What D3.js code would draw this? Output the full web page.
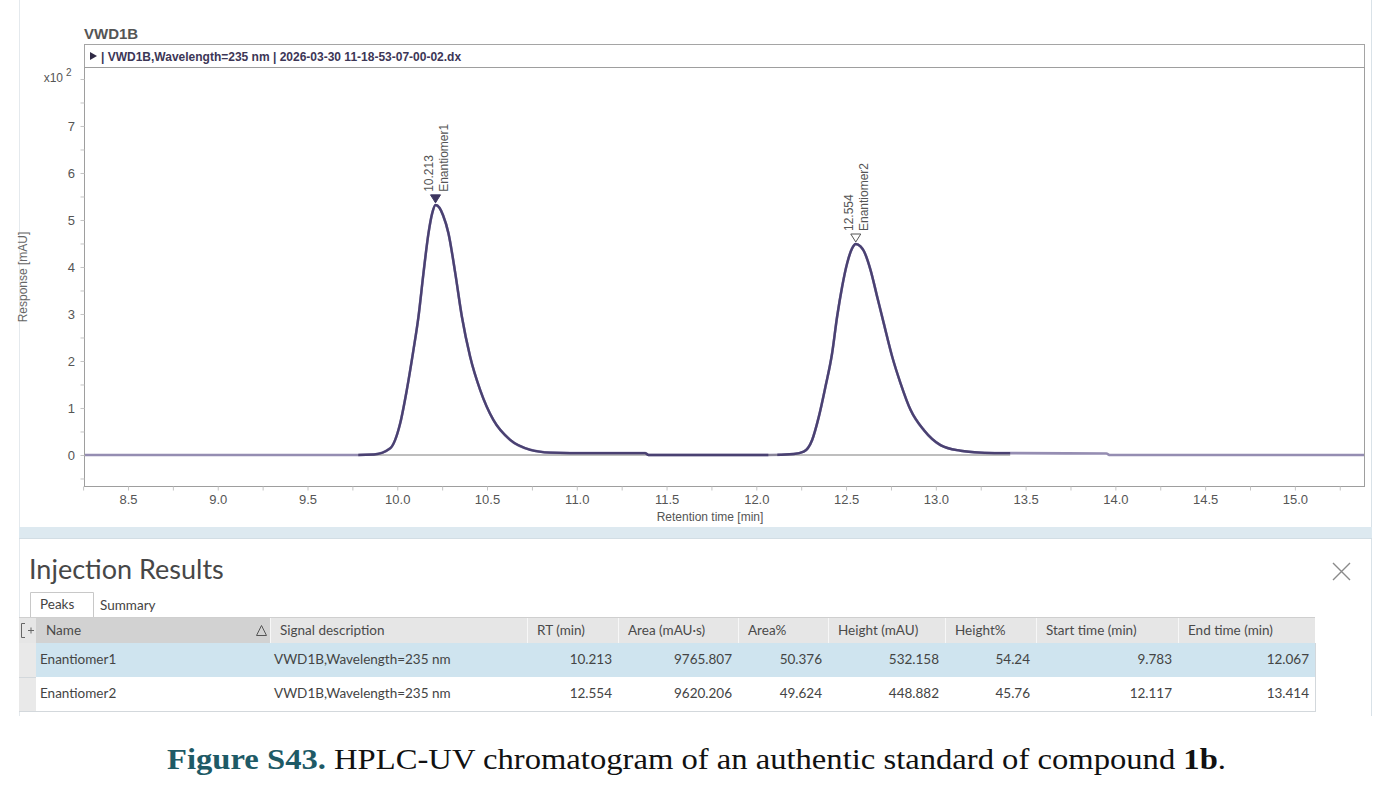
<!DOCTYPE html>
<html>
<head>
<meta charset="utf-8">
<script src="https://cdn.jsdelivr.net/npm/d3@7"></script>
<style>
  html, body { margin: 0; padding: 0; background: #fff; }
  svg { display: block; }
</style>
</head>
<body>
<svg id="chart" width="1389" height="794"></svg>
<script>
// chromatogram trace (min, mAU)
const signalTime = [8.25, 9.78, 9.87, 9.96, 10.016, 10.053, 10.09, 10.118, 10.146, 10.174, 10.195, 10.213,
  10.235, 10.255, 10.285, 10.323, 10.36, 10.406, 10.462, 10.536, 10.629, 10.741, 10.852, 10.964, 11.38, 11.4,
  12.07, 12.209, 12.264, 12.311, 12.348, 12.385, 12.422, 12.45, 12.478, 12.506, 12.534, 12.554, 12.58, 12.599,
  12.636, 12.673, 12.71, 12.757, 12.803, 12.859, 12.933, 13.026, 13.138, 13.249, 13.361, 13.95, 13.97, 15.39];
const signalMAU = [0, 0, 1, 14, 67, 138, 223, 294, 387, 472, 515, 532,
  526, 510, 472, 387, 294, 209, 138, 74, 32, 11, 5, 4, 4, 0,
  0, 2, 7, 32, 81, 145, 216, 294, 358, 408, 440, 449, 444, 434,
  394, 337, 280, 209, 153, 96, 53, 21, 9, 5, 4, 3, 0, 0];

const peakNames = ["Enantiomer1", "Enantiomer2"];
const peakSignal = ["VWD1B,Wavelength=235 nm", "VWD1B,Wavelength=235 nm"];
const peakRT = [10.213, 12.554];
const peakArea = [9765.807, 9620.206];
const peakAreaPct = [50.376, 49.624];
const peakHeight = [532.158, 448.882];
const peakHeightPct = [54.24, 45.76];
const peakStart = [9.783, 12.117];
const peakEnd = [12.067, 13.414];

const xTickLabels = [8.5, 9.0, 9.5, 10.0, 10.5, 11.0, 11.5, 12.0, 12.5, 13.0, 13.5, 14.0, 14.5, 15.0];
const xMinorTicks = [8.25, 8.5, 8.75, 9.0, 9.25, 9.5, 9.75, 10.0, 10.25, 10.5, 10.75, 11.0, 11.25, 11.5,
  11.75, 12.0, 12.25, 12.5, 12.75, 13.0, 13.25, 13.5, 13.75, 14.0, 14.25, 14.5, 14.75, 15.0, 15.25];
const yTickLabels = [0, 100, 200, 300, 400, 500, 600, 700];
const yMinorTicks = [-50, 0, 50, 100, 150, 200, 250, 300, 350, 400, 450, 500, 550, 600, 650, 700, 750, 800];

const columnHeaders = ["Name", "Signal description", "RT (min)", "Area (mAU\u00b7s)", "Area%",
  "Height (mAU)", "Height%", "Start time (min)", "End time (min)"];

const svg = d3.select("#chart");
const sans = "'Liberation Sans', Arial, sans-serif";
const uiFont = "Lato, 'Open Sans', sans-serif";

// ---- panels
svg.append("rect").attr("width", 1389).attr("height", 794).attr("fill", "#fff");
svg.append("line").attr("x1", 19.5).attr("x2", 19.5).attr("y1", 0).attr("y2", 716).attr("stroke", "#e4e9ed");
svg.append("line").attr("x1", 1371.5).attr("x2", 1371.5).attr("y1", 0).attr("y2", 716).attr("stroke", "#d9e2e8");
svg.append("rect").attr("x", 19).attr("y", 527).attr("width", 1353).attr("height", 11).attr("fill", "#dde9f0");
svg.append("line").attr("x1", 19).attr("x2", 1372).attr("y1", 538.5).attr("y2", 538.5).attr("stroke", "#d2dde4");

// ---- chromatogram
const plot = { left: 84, right: 1364, top: 67, bottom: 486 };
const x = d3.scaleLinear().domain([8.255, 15.385]).range([plot.left, plot.right]);
const y = d3.scaleLinear().domain([-66, 825.5]).range([plot.bottom, plot.top]);

svg.append("text").attr("x", 84).attr("y", 39).attr("font-family", sans).attr("font-size", 15)
  .attr("font-weight", "bold").attr("fill", "#555").text("VWD1B");

svg.append("rect").attr("x", plot.left + 0.5).attr("y", 44.5).attr("width", plot.right - plot.left)
  .attr("height", plot.top - 44).attr("fill", "#fff").attr("stroke", "#a5a5a5");
svg.append("path").attr("d", "M90,52 L97,56 L90,60 Z").attr("fill", "#2f2a45");
svg.append("text").attr("x", 101).attr("y", 60.5).attr("font-family", sans).attr("font-size", 12)
  .attr("font-weight", "bold").attr("fill", "#3c3656")
  .text("| VWD1B,Wavelength=235 nm | 2026-03-30 11-18-53-07-00-02.dx");

svg.append("rect").attr("x", plot.left + 0.5).attr("y", plot.top + 0.5)
  .attr("width", plot.right - plot.left).attr("height", plot.bottom - plot.top)
  .attr("fill", "#fff").attr("stroke", "#9e9e9e");

// axes
const xMinor = svg.append("g").attr("transform", `translate(0,${plot.bottom + 0.5})`)
  .call(d3.axisBottom(x).tickValues(xMinorTicks).tickSize(4).tickFormat(""));
const xLab = svg.append("g").attr("transform", `translate(0,${plot.bottom})`)
  .call(d3.axisBottom(x).tickValues(xTickLabels).tickSize(0).tickPadding(9).tickFormat(d3.format(".1f")));
const yMinor = svg.append("g").attr("transform", `translate(${plot.left + 0.5},0)`)
  .call(d3.axisLeft(y).tickValues(yMinorTicks).tickSize(4).tickFormat(""));
const yLab = svg.append("g").attr("transform", `translate(${plot.left},0)`)
  .call(d3.axisLeft(y).tickValues(yTickLabels).tickSize(0).tickPadding(9).tickFormat((d) => d / 100));
[xMinor, xLab, yMinor, yLab].forEach((g) => {
  g.select(".domain").remove();
  g.selectAll("line").attr("stroke", "#c4c4c4");
  g.selectAll("text").attr("font-family", sans).attr("font-size", 13).attr("fill", "#555");
});

svg.append("text").attr("x", 63).attr("y", 82).attr("text-anchor", "end").attr("font-family", sans)
  .attr("font-size", 12).attr("fill", "#555").text("x10");
svg.append("text").attr("x", 66).attr("y", 76).attr("font-family", sans)
  .attr("font-size", 10).attr("fill", "#555").text("2");

svg.append("text").attr("transform", "translate(27,277) rotate(-90)").attr("text-anchor", "middle")
  .attr("font-family", sans).attr("font-size", 12).attr("fill", "#666").text("Response [mAU]");
svg.append("text").attr("x", 710).attr("y", 521).attr("text-anchor", "middle")
  .attr("font-family", sans).attr("font-size", 12).attr("fill", "#555").text("Retention time [min]");

// signal
const trace = signalTime.map((t, i) => ({ t, v: signalMAU[i] }));
const line = d3.line().x((d) => x(d.t)).y((d) => y(d.v)).curve(d3.curveMonotoneX);

const defs = svg.append("defs");
defs.append("clipPath").attr("id", "plot-clip").append("rect")
  .attr("x", plot.left + 1).attr("y", plot.top + 1)
  .attr("width", plot.right - plot.left - 1).attr("height", plot.bottom - plot.top - 1);
const peakClip = defs.append("clipPath").attr("id", "peak-clip");
peakStart.forEach((s, i) => {
  peakClip.append("rect").attr("x", x(s)).attr("y", plot.top)
    .attr("width", x(peakEnd[i]) - x(s)).attr("height", plot.bottom - plot.top);
});

const layer = svg.append("g").attr("clip-path", "url(#plot-clip)");
layer.append("path").datum(trace).attr("d", line).attr("fill", "none")
  .attr("stroke", "#958db2").attr("stroke-width", 2.6);
layer.append("line").attr("x1", x(peakStart[0])).attr("x2", x(peakEnd[1]))
  .attr("y1", y(0)).attr("y2", y(0)).attr("stroke", "#7f7f7f").attr("stroke-width", 1.2);
layer.append("g").attr("clip-path", "url(#peak-clip)")
  .append("path").datum(trace).attr("d", line).attr("fill", "none")
  .attr("stroke", "#4a4172").attr("stroke-width", 2.4);

// peak markers and labels
peakRT.forEach((rt, i) => {
  const px = x(rt);
  const py = y(peakHeight[i]);
  svg.append("path")
    .attr("d", `M${px - 5},${py - 10} L${px + 5},${py - 10} L${px},${py - 2} Z`)
    .attr("fill", i === 0 ? "#3e3660" : "#fff")
    .attr("stroke", i === 0 ? "#3e3660" : "#555").attr("stroke-width", 1);
  svg.append("text").attr("transform", `translate(${px - 3},${py - 13}) rotate(-90)`)
    .attr("font-family", sans).attr("font-size", 12).attr("fill", "#555").text(rt.toFixed(3));
  svg.append("text").attr("transform", `translate(${px + 12},${py - 13}) rotate(-90)`)
    .attr("font-family", sans).attr("font-size", 12).attr("fill", "#555").text(peakNames[i]);
});

// ---- injection results table
svg.append("text").attr("x", 29).attr("y", 579).attr("font-family", uiFont).attr("font-size", 27)
  .attr("fill", "#474747").text("Injection Results");
svg.append("path").attr("d", "M1333,563 L1350,580 M1350,563 L1333,580")
  .attr("stroke", "#8a8a8a").attr("stroke-width", 1.4);

svg.append("path").attr("d", "M30.5,617 V592.5 H93.5 V617").attr("fill", "#fff").attr("stroke", "#c8c8c8");
svg.append("text").attr("x", 40).attr("y", 609).attr("font-family", uiFont).attr("font-size", 13.5)
  .attr("fill", "#444").text("Peaks");
svg.append("text").attr("x", 100).attr("y", 610).attr("font-family", uiFont).attr("font-size", 13.5)
  .attr("fill", "#444").text("Summary");

const colX = [36, 270, 527, 618, 738, 828, 945, 1036, 1178, 1315];
const rowTop = 643;
const rowH = 34;

svg.append("rect").attr("x", 19).attr("y", 617).attr("width", colX[9] - 19).attr("height", 26).attr("fill", "#e6e6e6");
svg.append("rect").attr("x", colX[0]).attr("y", 617).attr("width", colX[1] - colX[0]).attr("height", 26).attr("fill", "#d2d2d2");
svg.append("line").attr("x1", 19).attr("x2", colX[9]).attr("y1", 617.5).attr("y2", 617.5).attr("stroke", "#cfcfcf");
colX.slice(1, 9).forEach((cx) => {
  svg.append("line").attr("x1", cx + 0.5).attr("x2", cx + 0.5).attr("y1", 618).attr("y2", 643).attr("stroke", "#f7f7f7");
});
svg.append("path").attr("d", "M25,623.5 H21.5 V637.5 H25 M28,630.5 H34 M31,627.5 V633.5")
  .attr("fill", "none").attr("stroke", "#666").attr("stroke-width", 1);
svg.append("path").attr("d", "M256.5,635.5 L266.5,635.5 L261.5,625.5 Z")
  .attr("fill", "none").attr("stroke", "#555").attr("stroke-width", 1);

columnHeaders.forEach((h, i) => {
  svg.append("text").attr("x", colX[i] + 10).attr("y", 635)
    .attr("font-family", uiFont).attr("font-size", 13.5).attr("fill", "#4a4a4a").text(h);
});

svg.append("rect").attr("x", 19).attr("y", rowTop).attr("width", 17).attr("height", rowH * 2).attr("fill", "#e9e9e9");
peakNames.forEach((name, i) => {
  const top = rowTop + i * rowH;
  svg.append("rect").attr("x", colX[0]).attr("y", top).attr("width", colX[9] - colX[0]).attr("height", rowH)
    .attr("fill", i === 0 ? "#cfe4ef" : "#fff");
  svg.append("line").attr("x1", 19).attr("x2", colX[9]).attr("y1", top + rowH + 0.5).attr("y2", top + rowH + 0.5)
    .attr("stroke", "#d3d8dc");
  const cells = [name, peakSignal[i], peakRT[i].toFixed(3), peakArea[i].toFixed(3), peakAreaPct[i].toFixed(3),
    peakHeight[i].toFixed(3), peakHeightPct[i].toFixed(2), peakStart[i].toFixed(3), peakEnd[i].toFixed(3)];
  cells.forEach((c, j) => {
    const left = j < 2;
    svg.append("text")
      .attr("x", left ? colX[j] + 4 : colX[j + 1] - 6)
      .attr("y", top + 21)
      .attr("text-anchor", left ? "start" : "end")
      .attr("font-family", uiFont).attr("font-size", 13.5).attr("fill", "#444").text(c);
  });
});
svg.append("line").attr("x1", colX[9] + 0.5).attr("x2", colX[9] + 0.5).attr("y1", rowTop).attr("y2", rowTop + rowH * 2 + 1)
  .attr("stroke", "#d3d8dc");

// ---- caption
const cap = svg.append("text").attr("x", 167).attr("y", 769)
  .attr("font-family", "'Liberation Serif', 'DejaVu Serif', serif").attr("font-size", 29)
  .attr("textLength", 1059).attr("lengthAdjust", "spacingAndGlyphs").attr("fill", "#111");
cap.append("tspan").attr("font-weight", "bold").attr("fill", "#1e5a66").text("Figure S43.");
cap.append("tspan").text(" HPLC-UV chromatogram of an authentic standard of compound ");
cap.append("tspan").attr("font-weight", "bold").text("1b");
cap.append("tspan").text(".");
</script>
</body>
</html>
